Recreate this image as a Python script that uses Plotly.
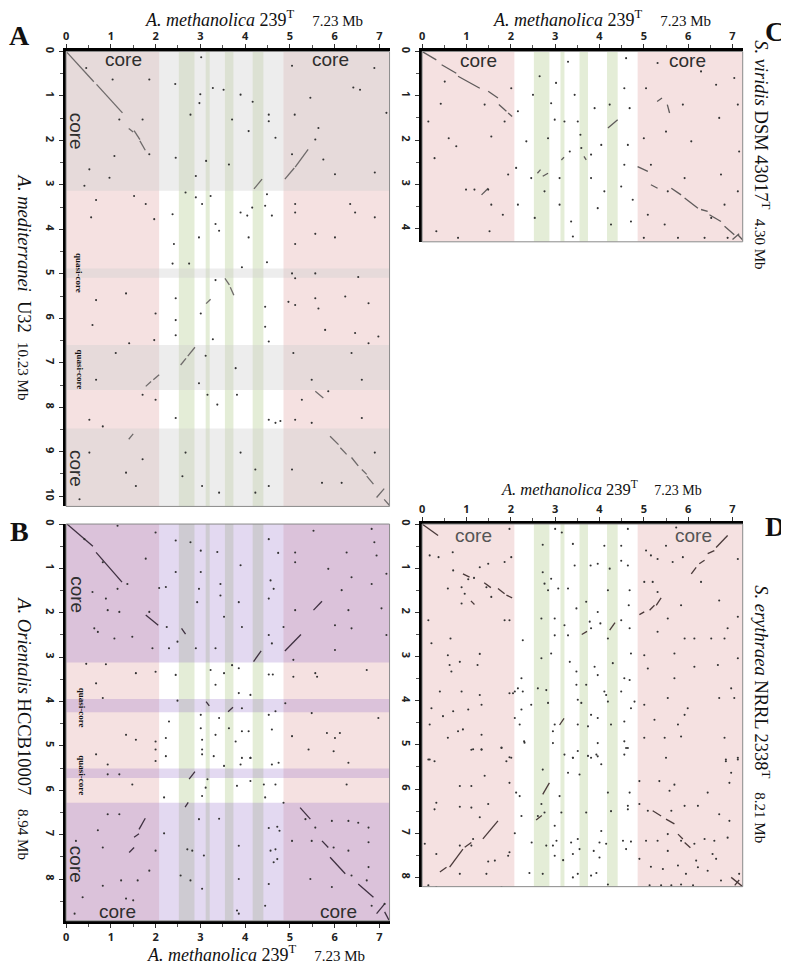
import plotly.graph_objects as go

W, H = 789, 965

# ---------------- data (Mb) ----------------
ref_len = 7.23
A_len, B_len, C_len, D_len = 10.23, 8.94, 4.30, 8.21

core_x = [(0.0, 2.08), (4.86, 7.23)]
green_x = [(2.52, 2.87), (3.12, 3.21), (3.55, 3.74), (4.17, 4.41)]
A_gray_y = [(0.0, 3.13), (4.88, 5.09), (6.60, 7.61), (8.48, 10.23)]
B_purple_y = [(0.0, 3.12), (3.94, 4.24), (5.51, 5.72), (6.28, 8.94)]

x_ticks = [0, 1, 2, 3, 4, 5, 6, 7]
A_yticks = list(range(0, 11))
B_yticks = list(range(0, 9))
C_yticks = list(range(0, 5))
D_yticks = list(range(0, 9))

A_segs = [(0.02, 0.02, 0.62, 0.68), (0.68, 0.74, 1.26, 1.38), (1.40, 1.73, 1.50, 1.81),
          (1.52, 1.78, 1.65, 1.98), (1.65, 2.01, 1.77, 2.22), (4.89, 2.87, 5.10, 2.62),
          (5.12, 2.60, 5.41, 2.20), (4.20, 3.09, 4.38, 2.87), (2.56, 7.05, 2.68, 6.90),
          (2.72, 6.85, 2.88, 6.65), (1.78, 7.53, 1.90, 7.42), (1.95, 7.38, 2.08, 7.27),
          (1.40, 8.72, 1.50, 8.60), (3.13, 5.67, 3.23, 5.57), (3.55, 5.10, 3.65, 5.25),
          (3.67, 5.30, 3.75, 5.48), (5.90, 8.65, 6.09, 8.84), (6.13, 8.91, 6.27, 9.06),
          (6.38, 9.13, 6.53, 9.32), (6.61, 9.40, 6.72, 9.51), (6.72, 9.55, 6.87, 9.73),
          (6.94, 10.03, 7.11, 9.83), (7.11, 10.07, 7.24, 10.22), (5.57, 7.64, 5.75, 7.79)]

A_dots = [(3.02, 0.13), (2.44, 0.73), (3.0, 0.96), (3.28, 0.82), (3.52, 0.86), (3.9, 0.97), (2.98, 1.16),
          (2.78, 1.42), (3.71, 1.53), (4.17, 1.13), (4.53, 1.42), (4.53, 1.57), (4.08, 1.79), (4.68, 1.94),
          (2.45, 2.39), (2.9, 2.8), (3.13, 2.46), (3.64, 2.54), (5.05, 0.32), (6.89, 0.37), (6.42, 0.81),
          (6.57, 0.86), (5.46, 1.04), (5.11, 1.42), (7.16, 1.38), (5.64, 1.72), (5.57, 1.98), (5.75, 2.43),
          (6.9, 2.72), (6.01, 2.76), (5.05, 2.31), (0.41, 3.02), (0.52, 2.65), (1.08, 2.35), (1.86, 2.31),
          (1.19, 1.53), (1.04, 0.63), (0.45, 0.37), (1.86, 0.63), (1.71, 1.53), (0.97, 2.84),
          (0.67, 3.34), (1.52, 3.25), (1.78, 3.43), (0.56, 3.73), (1.97, 3.77), (2.67, 3.17), (2.9, 3.28),
          (3.23, 3.25), (3.04, 3.43), (3.34, 3.88), (3.9, 3.62), (4.05, 3.69), (4.16, 3.51), (4.49, 3.21),
          (4.6, 3.69), (4.45, 3.47), (2.38, 3.66), (2.97, 4.18), (3.42, 4.03), (4.08, 4.18), (2.41, 4.33),
          (5.12, 3.43), (5.12, 3.62), (5.57, 4.1), (6.35, 3.43), (6.46, 3.62), (6.9, 3.73), (6.01, 4.18),
          (5.12, 4.33), (2.38, 4.77), (2.75, 4.77), (3.93, 4.85), (4.49, 4.74), (2.45, 5.55), (3.01, 5.89),
          (3.34, 5.14), (4.45, 5.74), (4.45, 6.19), (2.45, 6.04), (2.45, 6.38), (3.28, 6.47), (4.53, 6.52),
          (3.12, 6.84), (2.97, 7.46), (3.79, 7.12), (3.16, 7.72), (3.38, 7.94), (2.45, 8.24), (3.82, 7.72),
          (4.53, 8.28), (4.68, 8.35), (4.79, 8.31), (2.67, 9.02), (3.9, 9.02), (4.23, 9.4), (4.53, 9.77),
          (3.42, 9.92), (2.6, 9.55), (4.23, 9.92), (3.04, 9.77), (0.67, 5.59), (1.34, 5.44), (2.0, 5.89),
          (0.59, 6.15), (1.41, 6.56), (1.97, 6.49), (1.11, 6.78), (0.67, 7.38), (1.71, 7.72), (0.52, 8.28),
          (0.82, 8.43), (2.0, 7.83), (0.52, 9.02), (1.34, 9.47), (1.56, 9.77), (0.3, 10.07), (1.71, 9.17),
          (5.05, 4.99), (5.12, 5.1), (5.57, 4.99), (6.53, 5.07), (4.97, 5.63), (5.12, 5.7), (5.57, 5.55),
          (6.24, 5.51), (6.76, 5.66), (5.64, 5.78), (6.46, 6.33), (6.98, 6.41), (5.79, 6.26), (6.76, 6.56),
          (5.08, 6.78), (6.38, 6.78), (5.49, 7.38), (6.61, 7.38), (5.86, 7.64), (5.27, 7.83), (6.61, 8.24),
          (5.49, 8.35), (5.12, 8.28), (5.05, 9.4), (6.16, 9.7), (6.9, 9.02), (5.72, 9.7)]

B_segs = [(0.02, 0.0, 0.60, 0.50), (0.67, 0.64, 1.25, 1.31), (1.78, 2.05, 2.06, 2.28),
          (2.58, 2.35, 2.67, 2.48), (4.19, 3.10, 4.36, 2.86), (4.89, 2.86, 5.25, 2.49),
          (5.53, 1.94, 5.72, 1.74), (3.13, 4.00, 3.20, 4.10), (3.62, 4.23, 3.73, 4.13),
          (2.75, 5.75, 2.88, 5.58), (2.66, 6.38, 2.73, 6.27), (1.41, 7.40, 1.52, 7.29),
          (1.52, 7.06, 1.63, 6.98), (1.63, 6.88, 1.77, 6.63), (5.23, 6.39, 5.46, 6.65),
          (5.72, 7.14, 5.86, 7.29), (5.90, 7.51, 6.24, 7.88), (6.53, 8.11, 6.87, 8.41),
          (6.94, 8.78, 7.12, 8.56), (7.12, 8.74, 7.24, 8.97)]

B_dots = [(1.15, 0.04), (2.0, 0.19), (2.45, 0.37), (2.78, 0.41), (3.01, 0.6), (3.38, 0.63), (4.53, 0.34),
          (4.74, 0.65), (5.12, 0.64), (5.53, 0.15), (6.83, 0.11), (6.89, 0.41), (6.27, 0.64), (6.94, 0.71),
          (5.12, 0.86), (7.16, 1.12), (5.86, 1.01), (6.38, 1.2), (2.45, 1.08), (3.01, 1.08), (2.97, 1.46),
          (3.45, 1.35), (3.9, 0.93), (4.57, 1.27), (3.45, 1.61), (3.86, 1.76), (4.53, 1.68), (4.64, 1.46),
          (2.93, 1.76), (3.53, 2.09), (3.93, 2.32), (4.53, 2.5), (4.86, 2.32), (2.25, 2.32), (2.08, 1.44),
          (2.23, 1.42), (2.49, 2.65), (2.9, 2.8), (4.6, 2.69), (2.3, 2.8), (3.34, 2.8), (6.16, 1.49),
          (6.83, 1.35), (6.31, 1.94), (7.05, 1.9), (5.12, 1.94), (6.01, 2.28), (6.38, 2.35), (6.01, 2.84),
          (7.16, 2.5), (5.08, 3.06), (0.82, 0.86), (0.41, 0.34), (1.78, 0.78), (0.89, 1.68), (0.59, 1.53),
          (1.15, 1.46), (1.37, 1.35), (0.93, 1.94), (1.19, 1.98), (0.63, 2.35), (0.71, 2.43), (1.08, 2.58),
          (1.48, 2.54), (1.93, 2.8), (1.86, 1.98), (0.45, 3.15), (0.89, 3.16), (1.56, 3.36), (2.0, 3.33),
          (0.67, 3.59), (0.82, 3.92), (2.45, 3.4), (3.23, 3.29), (3.34, 3.62), (3.53, 3.36), (3.71, 3.18),
          (3.86, 3.25), (4.12, 3.85), (3.86, 3.81), (4.53, 3.39), (4.62, 3.39), (5.08, 3.44), (5.57, 3.36),
          (5.61, 3.44), (6.72, 3.29), (2.49, 3.98), (3.01, 4.3), (3.42, 4.37), (3.93, 4.15), (4.53, 4.3),
          (4.68, 4.22), (4.9, 4.04), (5.49, 4.26), (6.98, 4.37), (2.3, 4.45), (3.01, 4.6), (3.64, 4.6),
          (3.93, 4.67), (4.08, 4.67), (4.6, 4.63), (2.23, 4.82), (3.04, 4.86), (3.34, 4.75), (3.79, 4.9),
          (3.93, 5.27), (4.12, 5.27), (3.04, 5.08), (2.0, 4.9), (1.34, 4.75), (1.56, 4.86), (2.0, 5.08),
          (5.83, 4.71), (6.12, 4.71), (6.01, 4.82), (5.05, 4.78), (5.42, 5.08), (0.67, 5.19), (0.93, 5.42),
          (2.0, 5.34), (2.23, 5.23), (3.04, 5.19), (3.3, 5.23), (3.53, 5.45), (3.9, 5.42), (4.12, 5.27),
          (4.75, 5.38), (4.6, 5.42), (5.98, 5.12), (6.31, 5.38), (0.93, 5.64), (1.19, 5.64), (3.16, 5.75),
          (3.12, 5.94), (3.82, 5.9), (4.12, 5.79), (4.42, 5.87), (4.68, 5.87), (6.27, 5.87), (1.48, 5.87),
          (2.19, 6.16), (3.04, 6.13), (4.45, 6.16), (4.86, 6.28), (0.93, 6.54), (1.19, 6.54), (0.71, 6.9),
          (2.19, 6.97), (2.97, 6.65), (3.42, 6.64), (4.72, 6.82), (4.53, 6.85), (4.77, 6.91), (0.22, 7.14),
          (0.82, 7.29), (2.0, 7.36), (2.71, 7.33), (2.82, 7.36), (3.08, 7.47), (3.86, 7.25), (4.57, 7.36),
          (4.68, 7.33), (4.72, 7.55), (4.64, 7.62), (5.05, 7.14), (5.35, 6.65), (5.57, 6.84), (5.94, 6.69),
          (6.31, 6.69), (6.53, 6.73), (6.76, 6.84), (5.98, 7.29), (6.31, 7.36), (5.49, 7.14), (6.76, 7.17),
          (6.76, 7.73), (6.38, 7.92), (0.82, 8.15), (1.23, 8.03), (1.6, 8.03), (1.86, 7.81), (0.37, 8.41),
          (1.34, 8.44), (1.5, 8.48), (0.19, 8.78), (2.56, 7.92), (2.78, 8.03), (3.04, 8.22), (3.86, 8.0),
          (3.82, 8.71), (3.86, 8.78), (4.53, 8.11), (4.45, 8.6), (5.46, 8.0), (5.94, 8.18), (6.72, 8.03),
          (7.12, 8.56), (6.83, 8.6)]

C_segs = [(0.0, 0.0, 0.32, 0.19), (0.44, 0.30, 0.77, 0.49), (0.81, 0.56, 1.30, 0.83),
          (1.49, 0.90, 1.71, 1.05), (1.73, 1.20, 1.90, 1.35), (1.94, 1.39, 2.03, 1.47),
          (5.30, 1.13, 5.41, 1.05), (5.53, 1.20, 5.58, 1.39), (4.19, 1.73, 4.41, 1.54),
          (2.60, 2.75, 2.67, 2.67), (2.72, 2.82, 2.84, 2.75), (1.34, 3.24, 1.49, 3.09),
          (3.14, 2.45, 3.20, 2.39), (3.65, 2.37, 3.70, 2.45), (4.86, 2.60, 5.09, 2.71),
          (5.16, 3.01, 5.31, 3.09), (5.62, 3.09, 5.84, 3.24), (5.92, 3.31, 6.22, 3.54),
          (6.29, 3.57, 6.44, 3.61), (6.48, 3.69, 6.74, 3.84), (6.82, 3.95, 7.04, 4.14),
          (7.12, 4.14, 7.27, 4.30), (7.00, 4.25, 7.15, 4.12)]

C_dots = [(0.42, 1.18), (0.6, 1.96), (0.77, 2.14), (0.28, 2.41), (0.99, 3.12), (1.18, 3.12), (1.49, 3.12),
          (0.14, 1.58), (0.32, 4.06), (0.81, 4.21), (1.52, 4.06), (1.56, 3.46), (1.94, 2.78), (1.86, 1.58),
          (2.01, 0.83), (1.41, 1.2), (0.51, 0.68), (1.56, 1.92), (1.82, 3.69), (2.16, 1.35), (2.35, 2.03),
          (2.5, 0.98), (2.65, 0.56), (2.84, 1.96), (2.91, 1.17), (2.99, 1.54), (3.1, 2.86), (2.46, 2.86),
          (2.12, 2.63), (2.16, 3.46), (2.54, 3.76), (2.76, 3.16), (3.1, 3.46), (3.36, 3.84), (3.4, 4.18),
          (3.29, 0.23), (3.44, 0.98), (3.51, 1.58), (3.33, 2.26), (3.59, 2.18), (3.57, 1.88), (3.81, 2.33),
          (4.04, 2.11), (3.81, 2.86), (4.11, 3.16), (3.96, 3.54), (4.26, 3.91), (4.49, 3.05), (4.56, 2.56),
          (4.64, 2.11), (4.68, 1.28), (4.6, 0.15), (4.56, 0.83), (4.75, 3.35), (4.71, 3.84), (3.21, 1.58),
          (3.02, 0.71), (3.89, 1.28), (4.23, 1.2), (5.31, 0.26), (5.05, 0.83), (5.88, 1.2), (6.29, 0.45),
          (6.63, 0.75), (7.12, 1.2), (7.04, 0.6), (5.0, 1.96), (5.5, 1.81), (6.07, 2.03), (6.7, 1.5),
          (7.15, 2.26), (5.16, 2.56), (5.54, 3.16), (5.92, 2.86), (6.74, 2.78), (7.12, 3.16), (5.09, 3.69),
          (5.47, 3.91), (5.77, 4.21), (6.52, 3.76), (6.37, 4.21), (6.89, 4.21), (5.0, 4.21), (6.82, 3.46)]

D_segs = [(0.0, 0.0, 0.36, 0.26), (0.92, 1.13, 1.07, 1.20), (1.71, 1.46, 1.86, 1.58),
          (1.90, 1.61, 2.03, 1.67), (1.40, 1.33, 1.55, 1.44), (1.10, 1.74, 1.18, 1.82),
          (6.07, 1.13, 6.18, 0.98), (6.25, 0.90, 6.37, 0.82), (6.44, 0.67, 6.59, 0.60),
          (6.63, 0.53, 6.89, 0.26), (4.90, 2.05, 5.01, 1.99), (5.13, 1.95, 5.24, 1.84),
          (5.28, 1.84, 5.39, 1.67), (4.23, 2.40, 4.35, 2.23), (3.60, 2.50, 3.72, 2.43),
          (3.10, 4.55, 3.20, 4.40), (2.72, 6.12, 2.87, 5.86), (2.57, 6.70, 2.70, 6.60),
          (0.40, 7.88, 0.55, 7.77), (0.62, 7.77, 0.92, 7.36), (0.96, 7.32, 1.11, 7.21),
          (1.37, 7.13, 1.71, 6.72), (5.20, 6.49, 5.39, 6.61), (5.50, 6.68, 5.69, 6.79),
          (5.77, 7.02, 5.88, 7.13), (5.92, 7.21, 6.05, 7.33), (6.97, 8.00, 7.23, 8.21),
          (7.05, 8.18, 7.15, 8.06)]

D_dots = [(0.69, 0.64), (0.17, 0.71), (0.37, 0.75), (0.7, 1.05), (1.04, 1.25), (1.17, 1.22), (1.49, 0.9),
          (1.86, 0.86), (1.97, 0.11), (2.01, 0.75), (1.3, 0.98), (0.58, 1.46), (0.89, 1.43), (0.96, 1.58),
          (1.45, 1.43), (1.56, 1.65), (0.89, 1.8), (0.14, 2.18), (1.86, 2.18), (1.97, 2.18), (0.64, 2.59),
          (0.21, 2.7), (0.58, 2.97), (0.62, 3.19), (0.66, 3.34), (0.85, 3.12), (1.3, 2.94), (1.25, 3.19),
          (0.4, 3.79), (0.89, 3.79), (1.3, 3.87), (1.34, 4.09), (1.04, 4.2), (0.7, 4.24), (0.21, 4.17),
          (0.47, 4.35), (0.17, 4.54), (0.81, 4.69), (0.92, 4.65), (0.58, 4.84), (1.34, 4.77), (1.15, 5.1),
          (1.34, 5.1), (1.79, 5.06), (1.97, 3.83), (2.01, 5.29), (0.17, 5.33), (2.72, 0.47), (3.0, 0.11),
          (3.15, 0.19), (3.4, 0.45), (3.44, 0.94), (3.8, 0.94), (4.11, 0.49), (4.49, 0.49), (4.64, 0.11),
          (4.49, 0.83), (4.64, 0.94), (4.23, 1.01), (3.96, 0.9), (2.72, 1.09), (2.91, 1.24), (2.76, 1.35),
          (2.84, 1.5), (3.07, 1.46), (3.29, 1.46), (4.19, 1.5), (4.68, 1.5), (3.7, 1.76), (3.48, 1.91),
          (3.96, 1.99), (4.66, 1.84), (2.69, 2.14), (2.99, 2.14), (3.21, 2.29), (3.78, 2.21), (3.81, 2.36),
          (4.02, 2.25), (4.49, 2.18), (4.68, 2.36), (2.27, 2.63), (2.99, 2.52), (3.29, 2.52), (4.19, 2.59),
          (2.91, 2.93), (2.69, 3.04), (3.33, 3.12), (3.48, 3.34), (3.89, 3.23), (3.96, 3.42), (4.3, 3.15),
          (4.56, 3.49), (4.71, 2.93), (2.24, 3.49), (2.16, 3.72), (2.27, 3.79), (2.61, 3.72), (2.8, 3.76),
          (3.48, 3.64), (3.7, 3.64), (4.11, 3.79), (4.49, 3.79), (4.68, 3.53), (2.09, 3.79), (2.05, 3.83),
          (2.46, 4.09), (2.84, 4.05), (3.51, 3.98), (3.59, 4.05), (3.81, 4.32), (3.96, 4.39), (4.15, 3.87),
          (4.19, 4.02), (4.79, 4.02), (2.24, 4.2), (2.09, 4.39), (2.2, 4.54), (2.99, 4.54), (3.51, 4.54),
          (4.26, 4.54), (4.56, 4.47), (4.71, 4.17), (2.3, 4.92), (2.95, 4.69), (3.74, 4.58), (2.95, 4.96),
          (3.51, 5.14), (3.96, 4.96), (4.56, 4.92), (4.64, 5.07), (3.4, 5.29), (3.81, 5.29), (3.96, 5.26),
          (5.05, 0.6), (5.16, 0.71), (5.31, 0.79), (5.5, 0.49), (5.73, 0.08), (5.88, 0.75), (6.29, 1.31),
          (7.12, 0.79), (5.65, 0.86), (5.01, 1.31), (5.2, 1.31), (5.31, 1.54), (5.84, 1.84), (6.7, 1.73),
          (7.12, 2.1), (5.54, 2.14), (5.92, 2.59), (6.52, 2.59), (6.82, 2.59), (6.89, 2.36), (6.14, 2.59),
          (5.31, 2.44), (5.01, 2.97), (5.09, 3.27), (5.69, 2.93), (6.14, 3.23), (6.67, 3.19), (7.12, 3.04),
          (5.69, 3.49), (6.97, 3.72), (7.04, 3.94), (5.01, 4.09), (5.54, 3.94), (5.99, 4.17), (5.92, 4.32),
          (6.7, 3.94), (5.24, 4.43), (5.77, 4.54), (5.01, 4.84), (5.47, 4.84), (5.84, 4.81), (6.82, 4.84),
          (5.5, 5.29), (6.85, 5.37), (7.12, 5.29), (0.14, 5.33), (0.28, 5.37), (1.11, 5.11), (1.34, 5.11),
          (1.79, 5.07), (1.9, 5.37), (1.97, 5.28), (1.41, 5.7), (0.85, 5.93), (1.11, 5.93), (1.97, 5.86),
          (0.32, 6.31), (0.28, 6.46), (0.85, 6.4), (1.11, 6.42), (1.49, 6.34), (1.3, 6.64), (0.06, 7.24),
          (0.85, 7.28), (1.15, 7.13), (1.11, 7.28), (0.32, 7.47), (1.49, 7.64), (1.64, 7.62), (1.94, 7.51),
          (1.97, 7.43), (0.85, 7.92), (1.45, 7.92), (0.14, 8.18), (0.32, 8.22), (1.79, 8.22), (2.31, 4.95),
          (2.72, 5.56), (3.29, 5.63), (3.55, 5.67), (3.21, 5.22), (3.4, 5.29), (3.74, 5.25), (3.93, 5.22),
          (4.04, 5.44), (4.56, 5.22), (4.6, 5.07), (2.12, 6.08), (2.2, 6.16), (3.1, 6.16), (4.19, 6.08),
          (4.68, 6.08), (2.24, 6.61), (2.61, 6.61), (2.76, 6.53), (2.69, 6.34), (3.14, 6.53), (3.7, 6.53),
          (4.26, 6.5), (4.64, 6.38), (4.64, 6.46), (2.09, 7.0), (2.99, 6.83), (2.95, 7.28), (3.03, 7.17),
          (2.47, 7.21), (2.8, 7.28), (3.36, 7.21), (3.51, 7.13), (4.04, 6.95), (4.0, 7.21), (4.15, 7.24),
          (4.53, 7.17), (4.71, 7.19), (4.6, 7.36), (2.99, 7.51), (3.4, 7.47), (3.55, 7.36), (3.87, 7.4),
          (4.0, 7.55), (3.18, 7.61), (2.42, 7.9), (2.72, 7.92), (3.4, 8.0), (3.51, 7.92), (3.81, 7.96),
          (3.93, 7.9), (4.19, 8.16), (4.9, 5.82), (4.9, 6.34), (5.09, 6.49), (5.35, 5.82), (5.58, 6.04),
          (5.69, 5.9), (5.62, 6.49), (5.92, 6.38), (6.22, 6.38), (6.44, 6.08), (6.93, 5.86), (6.7, 6.57),
          (6.89, 7.1), (6.93, 6.72), (6.85, 5.33), (6.97, 5.63), (7.12, 5.33), (5.05, 7.17), (5.31, 7.17),
          (5.54, 7.02), (5.84, 7.17), (6.14, 7.24), (6.37, 7.13), (6.59, 7.17), (4.9, 7.58), (5.16, 7.76),
          (5.54, 7.4), (5.77, 7.73), (6.18, 7.62), (6.55, 7.47), (6.63, 7.58), (5.43, 7.81), (5.95, 7.92),
          (6.22, 7.77), (6.44, 7.85), (6.74, 8.07), (7.15, 7.92), (5.39, 8.18), (5.62, 8.18), (5.84, 8.16),
          (6.11, 8.18), (5.13, 8.18)]

# ---------------- layout helpers ----------------
# the page body adds an 8px margin, so positions are given in window pixels and shifted back
OFF = 8.0

def fx(px):
    return (px - OFF) / W

def fy(py):
    return 1 - (py - OFF) / H

boxes = {
    "A": (63.3, 46.7, 388.0, 504.0),
    "C": (420.7, 46.7, 742.5, 238.0),
    "B": (63.3, 521.7, 388.0, 920.5),
    "D": (420.7, 521.7, 742.5, 886.2),
}
axis_ids = {"A": ("x", "y", ""), "C": ("x2", "y2", "2"), "B": ("x3", "y3", "3"), "D": ("x4", "y4", "4")}
lens = {"A": A_len, "B": B_len, "C": C_len, "D": D_len}
yticks = {"A": A_yticks, "B": B_yticks, "C": C_yticks, "D": D_yticks}
segs = {"A": A_segs, "B": B_segs, "C": C_segs, "D": D_segs}
dots = {"A": A_dots, "B": B_dots, "C": C_dots, "D": D_dots}
seg_color = {"A": "#6e6a6a", "C": "#5e5a5a", "B": "#3e3040", "D": "#4a3a3a"}

PINK = "#f5e1e1"
GREEN = "#e4edd7"

fig = go.Figure()
shapes = []
layout_axes = {}

for p in ["A", "C", "B", "D"]:
    xr, yr, sfx = axis_ids[p]
    L, T, R, B = boxes[p]
    ylen = lens[p]
    for (a, b) in core_x:
        shapes.append(dict(type="rect", xref=xr, yref=yr, x0=a, x1=b, y0=0, y1=ylen,
                           fillcolor=PINK, line_width=0, layer="below"))
    for (a, b) in green_x:
        shapes.append(dict(type="rect", xref=xr, yref=yr, x0=a, x1=b, y0=0, y1=ylen,
                           fillcolor=GREEN, line_width=0, layer="below"))
    if p == "A":
        for (a, b) in A_gray_y:
            shapes.append(dict(type="rect", xref=xr, yref=yr, x0=0, x1=ref_len, y0=a, y1=b,
                               fillcolor="rgba(205,205,205,0.36)", line_width=0, layer="below"))
    if p == "B":
        for (a, b) in B_purple_y:
            shapes.append(dict(type="rect", xref=xr, yref=yr, x0=0, x1=ref_len, y0=a, y1=b,
                               fillcolor="rgba(140,95,195,0.24)", line_width=0, layer="below"))
    shapes.append(dict(type="rect", xref=xr + " domain", yref=yr + " domain", x0=0, x1=1, y0=0, y1=1,
                       line=dict(color="#8a8a8a", width=1), fillcolor="rgba(0,0,0,0)", layer="above"))

    sx, sy = [], []
    for (x0, y0, x1, y1) in segs[p]:
        sx += [x0, x1, None]
        sy += [y0, y1, None]
    fig.add_trace(go.Scatter(x=sx, y=sy, mode="lines", xaxis=xr, yaxis=yr,
                             line=dict(color=seg_color[p], width=1.3), hoverinfo="skip", showlegend=False))
    fig.add_trace(go.Scatter(x=[d[0] for d in dots[p]], y=[d[1] for d in dots[p]], mode="markers",
                             xaxis=xr, yaxis=yr, marker=dict(color="#333333", size=2.1, line_width=0),
                             hoverinfo="skip", showlegend=False))

    xside = "bottom" if p == "B" else "top"
    layout_axes["xaxis" + sfx] = dict(
        domain=[fx(L), fx(R)], range=[0, ref_len], anchor=yr, side=xside,
        showgrid=False, zeroline=False, showline=True, linewidth=3, linecolor="black",
        ticks="outside", ticklen=4, tickcolor="#333", tickvals=x_ticks,
        minor=dict(dtick=0.5, tick0=0, ticks="outside", ticklen=3, tickcolor="#555"),
        tickfont=dict(family="Open Sans", size=11, color="#222", weight="bold"),
        fixedrange=True)
    layout_axes["yaxis" + sfx] = dict(
        domain=[fy(B), fy(T)], range=[ylen, 0], anchor=xr, side="left",
        showgrid=False, zeroline=False, showline=True, linewidth=3, linecolor="black",
        ticks="outside", ticklen=4, tickcolor="#333", tickvals=yticks[p], tickangle=90,
        minor=dict(dtick=0.5, tick0=0, ticks="outside", ticklen=3, tickcolor="#555"),
        tickfont=dict(family="Open Sans", size=11, color="#222", weight="bold"),
        fixedrange=True)

fig.update_layout(**layout_axes)

SERIF = "Liberation Serif"
SANS = "Liberation Sans"
NB = "\u00a0"
ann = []

def add_text(px, py, text, size, family=SERIF, angle=0, color="#111", bold=False):
    ann.append(dict(x=fx(px), y=fy(py), xref="paper", yref="paper", text=text, showarrow=False,
                    textangle=angle, xanchor="center", yanchor="middle",
                    font=dict(family=family, size=size, color=color, weight="bold" if bold else "normal")))

meth = "<i>A. methanolica</i> 239<sup>T</sup>" + NB * 4 + "<span style='font-size:15px'>7.23 Mb</span>"
meth_d = "<i>A. methanolica</i> 239<sup>T</sup>" + NB * 4 + "<span style='font-size:14px'>7.23 Mb</span>"
add_text(252, 14, meth, 18)
add_text(601, 14, meth, 18)
add_text(601, 486, meth_d, 16.5)
add_text(254, 953, meth, 18)

add_text(21, 284, "<i>A. mediterranei</i>" + NB * 2 + "U32" + NB * 2 + "<span style='font-size:15px'>10.23 Mb</span>", 18.5, angle=90)
add_text(21, 727, "<i>A. Orientalis</i> HCCB10007" + NB * 3 + "<span style='font-size:15px'>8.94 Mb</span>", 18.5, angle=90)
add_text(762, 150, "<i>S. viridis</i> DSM 43017<sup>T</sup>" + NB * 2 + "<span style='font-size:15px'>4.30 Mb</span>", 18.5, angle=90)
add_text(762, 713, "<i>S. erythraea</i> NRRL 2338<sup>T</sup>" + NB * 3 + "<span style='font-size:15px'>8.21 Mb</span>", 18.5, angle=90)

add_text(17, 31, "A", 28, bold=True)
add_text(17, 529, "B", 28, bold=True)
add_text(775, 27, "C", 28, bold=True)
add_text(775, 524, "D", 28, bold=True)

CORE_C = "#2e2e2e"
add_text(120.5, 55, "core", 19, family=SANS, color=CORE_C)
add_text(328.5, 55, "core", 19, family=SANS, color=CORE_C)
add_text(74, 127, "core", 19, family=SANS, color=CORE_C, angle=90)
add_text(77, 269, "quasi-core", 9, color="#111", angle=90, bold=True)
add_text(77, 366, "quasi-core", 9, color="#111", angle=90, bold=True)
add_text(74, 466, "core", 19, family=SANS, color=CORE_C, angle=90)

add_text(74, 593, "core", 19, family=SANS, color=CORE_C, angle=90)
add_text(79, 706, "quasi-core", 9, color="#111", angle=90, bold=True)
add_text(79, 774, "quasi-core", 9, color="#111", angle=90, bold=True)
add_text(74, 864, "core", 19, family=SANS, color=CORE_C, angle=90)
add_text(115, 911, "core", 19, family=SANS, color=CORE_C)
add_text(337, 911, "core", 19, family=SANS, color=CORE_C)

add_text(477, 56, "core", 19, family=SANS, color=CORE_C)
add_text(687, 56, "core", 19, family=SANS, color=CORE_C)

add_text(472, 533, "core", 19, family=SANS, color="#555")
add_text(693, 533, "core", 19, family=SANS, color="#555")

fig.update_layout(width=W, height=H, margin=dict(l=0, r=0, t=0, b=0),
                  paper_bgcolor="white", plot_bgcolor="white",
                  shapes=shapes, annotations=ann, showlegend=False)

fig.write_html("out.html")
